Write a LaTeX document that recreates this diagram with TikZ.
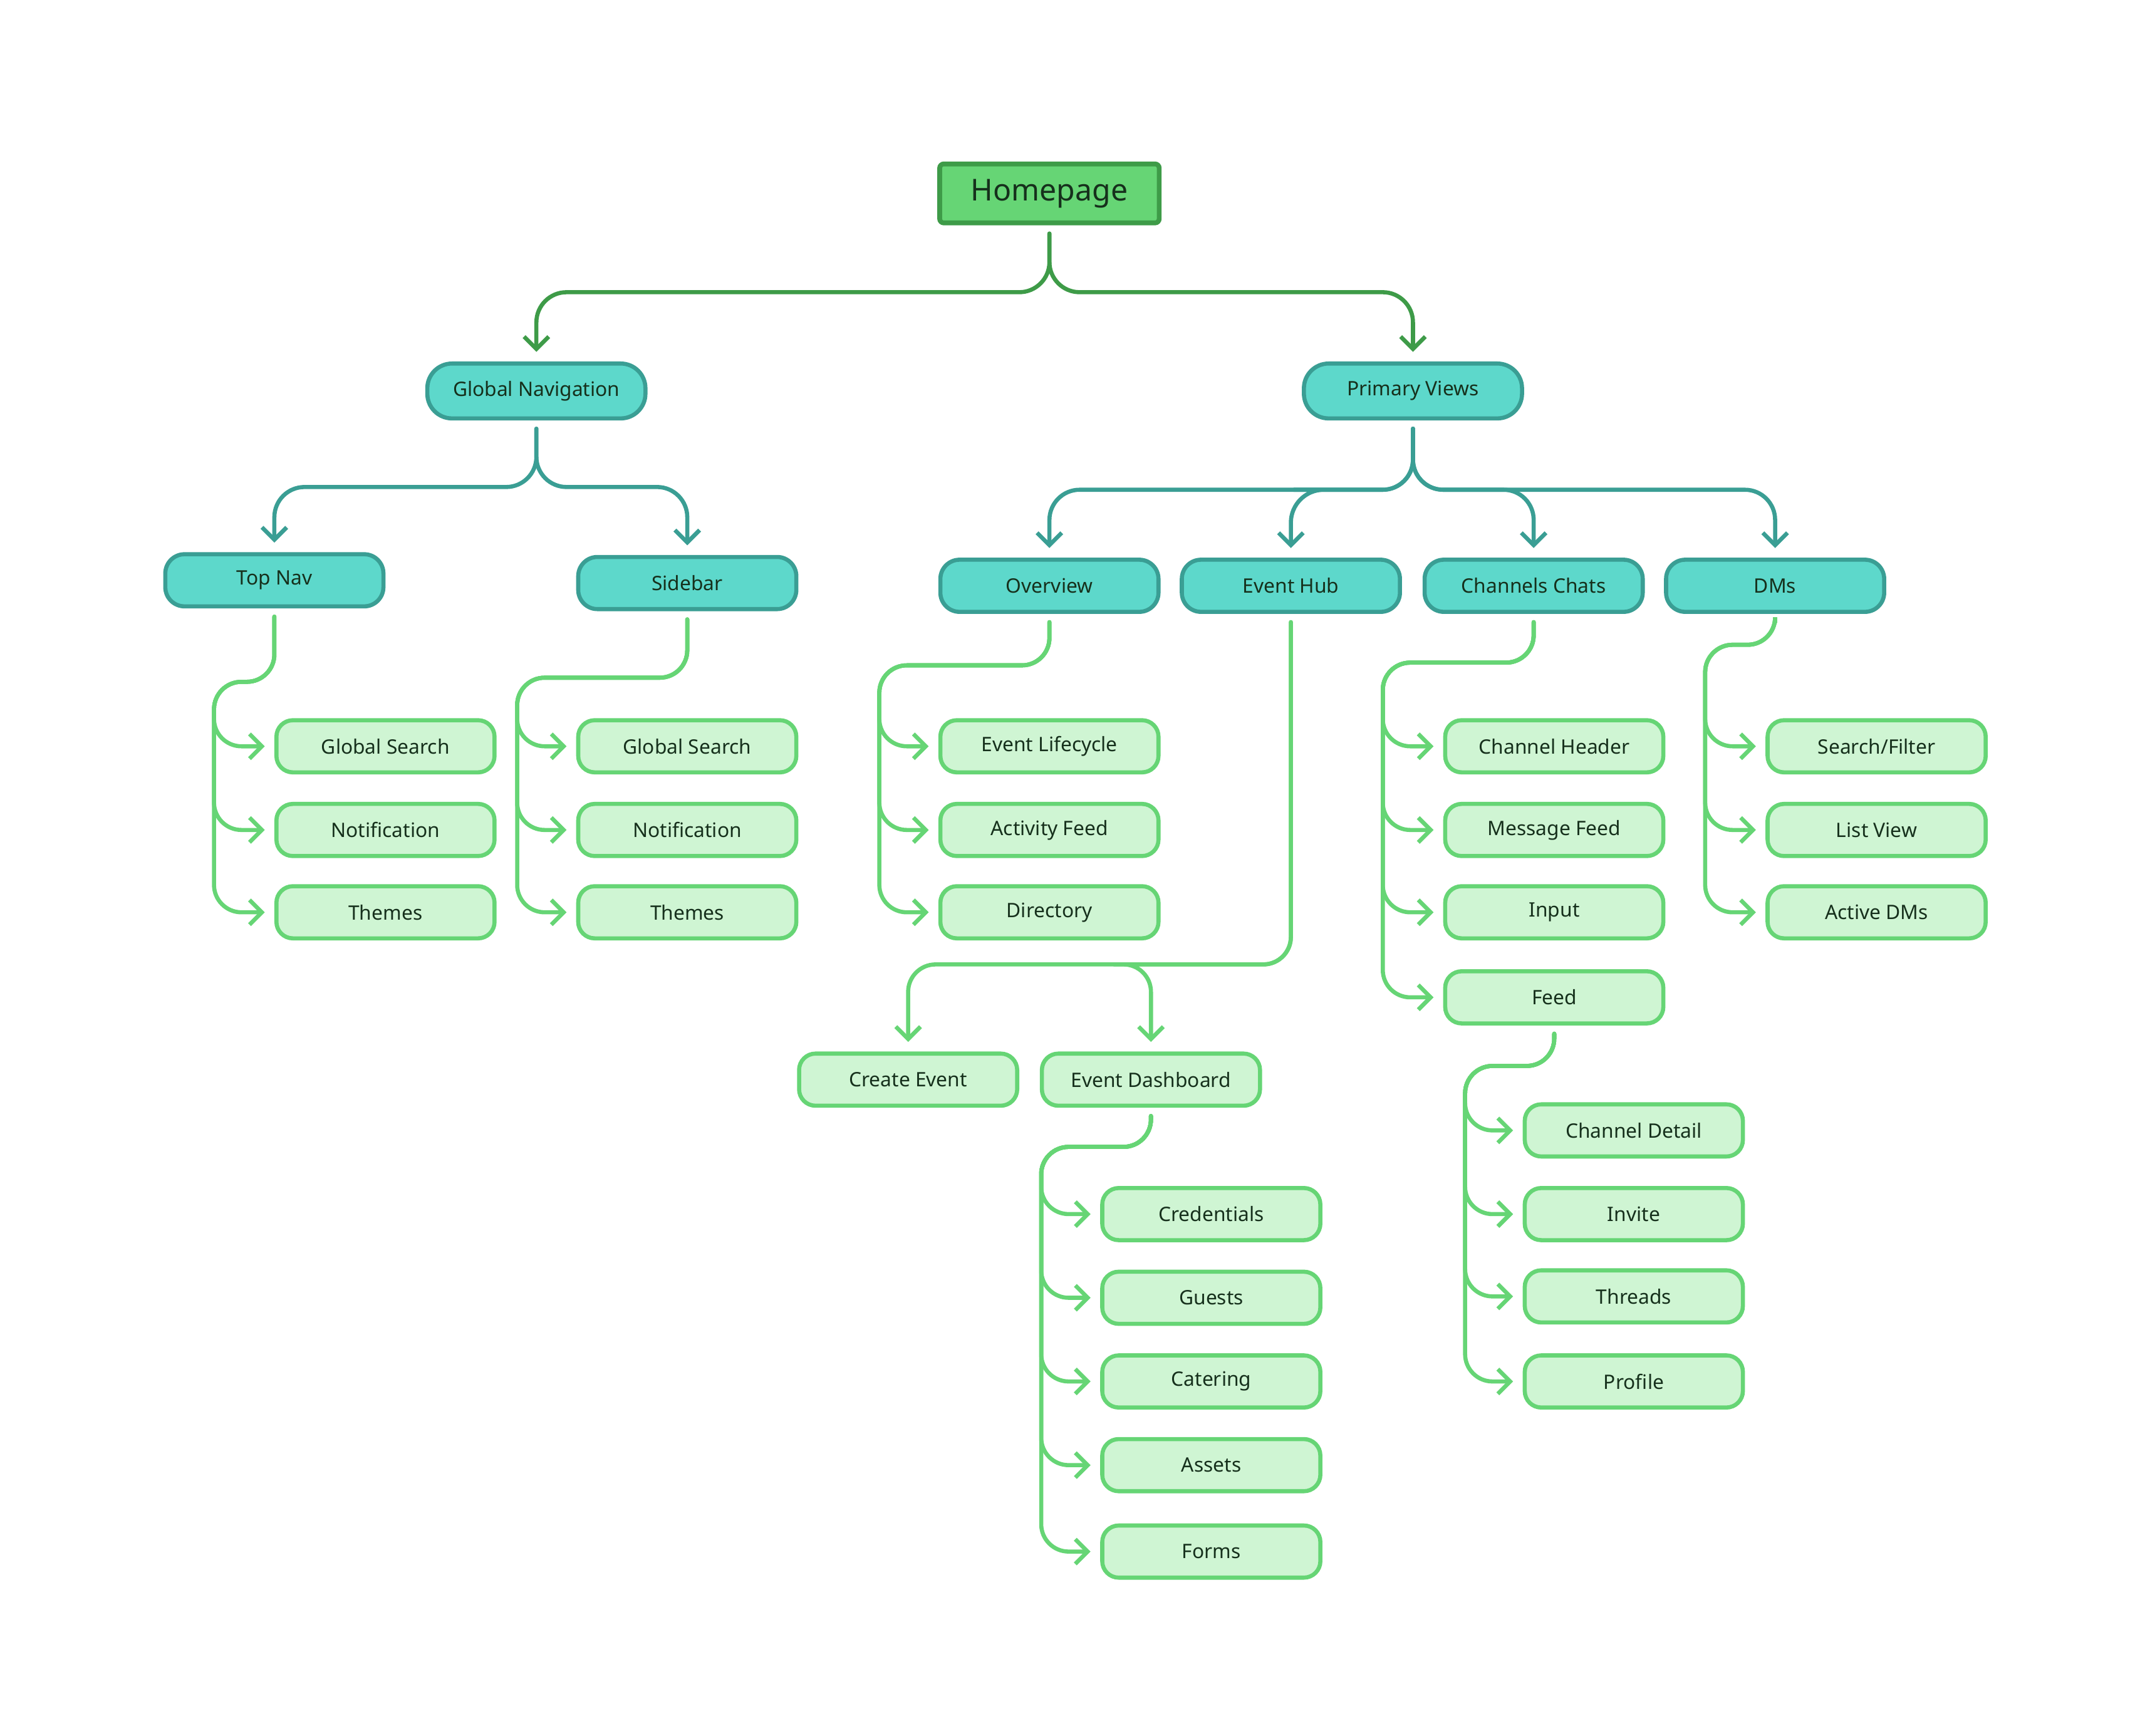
\documentclass[tikz,border=0pt]{standalone}
\usepackage{fontspec}
\setmainfont{Noto Sans}
\usetikzlibrary{arrows.meta}
\definecolor{hpf}{HTML}{66D575}
\definecolor{hpd}{HTML}{3E9B48}
\definecolor{tf}{HTML}{5DD8CB}
\definecolor{td}{HTML}{3A9E94}
\definecolor{lf}{HTML}{CFF5D3}
\definecolor{ld}{HTML}{66D575}
\definecolor{tx}{HTML}{16301C}
\begin{document}
\begin{tikzpicture}[x=1pt,y=-1pt,
 hp/.style={draw=hpd,fill=hpf,line width=3.5pt,rounded corners=3pt,minimum width=160pt,minimum height=43pt,text=tx,font=\fontsize{22}{26}\selectfont},
 mid/.style={draw=td,fill=tf,line width=3pt,rounded corners=18pt,minimum width=159pt,minimum height=40pt,text=tx,font=\fontsize{14.5}{17}\selectfont},
 lvl/.style={draw=td,fill=tf,line width=3pt,rounded corners=14pt,minimum width=159pt,minimum height=38pt,text=tx,font=\fontsize{14.5}{17}\selectfont},
 leaf/.style={draw=ld,fill=lf,line width=3pt,rounded corners=12pt,minimum width=159pt,minimum height=38pt,text=tx,font=\fontsize{14.5}{17}\selectfont},
 arr/.style={line width=3pt,line cap=round,rounded corners=22pt,-{Straight Barb[length=9pt,width=18pt,line width=3pt]}},
 ca/.style={arr,draw=hpd},
 cb/.style={arr,draw=td},
 cc/.style={arr,draw=ld,rounded corners=20pt},
]
\useasboundingbox (0,0) rectangle (1560,1265);
\node[hp] (hp) at (765,141) {Homepage};
\node[mid] (gn) at (391,285) {Global Navigation};
\node[mid] (pv) at (1030,285) {Primary Views};
\node[lvl] (tn) at (200,423) {Top Nav};
\node[lvl] (sb) at (501,425) {Sidebar};
\node[lvl] (ov) at (765,427) {Overview};
\node[lvl] (eh) at (941,427) {Event Hub};
\node[lvl] (cc) at (1118,427) {Channels Chats};
\node[lvl] (dm) at (1294,427) {DMs};
% leaves
\node[leaf] (t1) at (281,544) {Global Search};
\node[leaf] (t2) at (281,605) {Notification};
\node[leaf] (t3) at (281,665) {Themes};
\node[leaf] (s1) at (501,544) {Global Search};
\node[leaf] (s2) at (501,605) {Notification};
\node[leaf] (s3) at (501,665) {Themes};
\node[leaf] (o1) at (765,544) {Event Lifecycle};
\node[leaf] (o2) at (765,605) {Activity Feed};
\node[leaf] (o3) at (765,665) {Directory};
\node[leaf] (c1) at (1133,544) {Channel Header};
\node[leaf] (c2) at (1133,605) {Message Feed};
\node[leaf] (c3) at (1133,665) {Input};
\node[leaf] (c4) at (1133,727) {Feed};
\node[leaf] (d1) at (1368,544) {Search/Filter};
\node[leaf] (d2) at (1368,605) {List View};
\node[leaf] (d3) at (1368,665) {Active DMs};
\node[leaf] (ce) at (662,787) {Create Event};
\node[leaf] (ed) at (839,787) {Event Dashboard};
\node[leaf] (e1) at (883,885) {Credentials};
\node[leaf] (e2) at (883,946) {Guests};
\node[leaf] (e3) at (883,1007) {Catering};
\node[leaf] (e4) at (883,1068) {Assets};
\node[leaf] (e5) at (883,1131) {Forms};
\node[leaf] (f1) at (1191,824) {Channel Detail};
\node[leaf] (f2) at (1191,885) {Invite};
\node[leaf] (f3) at (1191,945) {Threads};
\node[leaf] (f4) at (1191,1007) {Profile};
% top level
\foreach \t in {gn,pv}
 \draw[ca] ([yshift=-6pt]hp.south) -- (765,213) -| ([yshift=7pt]\t.north);
\foreach \t in {tn,sb}
 \draw[cb] ([yshift=-6pt]gn.south) -- (391,355) -| ([yshift=7pt]\t.north);
\foreach \t in {ov,cc,dm}
 \draw[cb] ([yshift=-6pt]pv.south) -- (1030,357) -| ([yshift=7pt]\t.north);
\draw[cb] ([yshift=-6pt]pv.south) -- (1030,357) -- (965,357) [rounded corners=24pt]-| ([yshift=7pt]eh.north);
% leaf groups
\foreach \t in {t1,t2,t3}
 \draw[cc] ([yshift=-6pt]tn.south) |- (156,497) |- ([xshift=-7pt]\t.west);
\foreach \t in {s1,s2,s3}
 \draw[cc] ([yshift=-6pt]sb.south) |- (377,494) |- ([xshift=-7pt]\t.west);
\foreach \t in {o1,o2,o3}
 \draw[cc] ([yshift=-6pt]ov.south) |- (641,485) |- ([xshift=-7pt]\t.west);
\foreach \t in {c1,c2,c3,c4}
 \draw[cc] ([yshift=-6pt]cc.south) |- (1008,483) |- ([xshift=-7pt]\t.west);
\foreach \t in {d1,d2,d3}
 \draw[cc] ([yshift=-6pt]dm.south) |- (1243,470) |- ([xshift=-7pt]\t.west);
\foreach \t in {ce,ed}
 \draw[cc] ([yshift=-6pt]eh.south) |- (800,703) -| ([yshift=7pt]\t.north);
\foreach \t in {e1,e2,e3,e4,e5}
 \draw[cc] ([yshift=-6pt]ed.south) |- (759,836) |- ([xshift=-7pt]\t.west);
\foreach \t in {f1,f2,f3,f4}
 \draw[cc] ([yshift=-6pt]c4.south) |- (1068,777) |- ([xshift=-7pt]\t.west);
\end{tikzpicture}
\end{document}
